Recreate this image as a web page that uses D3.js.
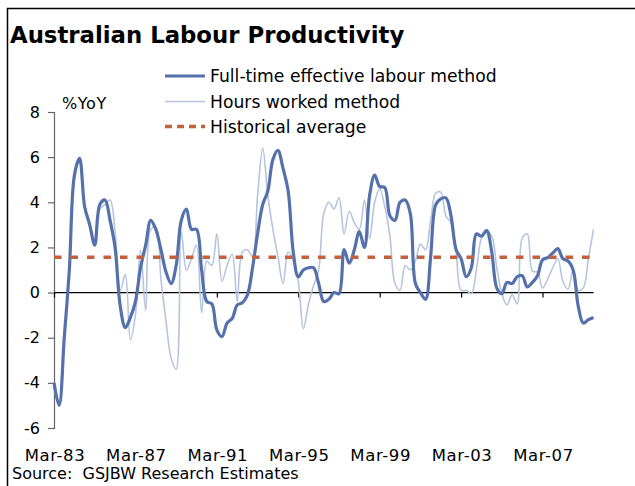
<!DOCTYPE html>
<html>
<head>
<meta charset="utf-8">
<script src="https://cdn.jsdelivr.net/npm/d3@7"></script>
<style>
  html, body { margin: 0; padding: 0; background: #fff; }
  svg { display: block; }
  text { font-family: "DejaVu Sans", Verdana, sans-serif; fill: #000; }
</style>
</head>
<body>
<svg id="chart" width="635" height="486"></svg>
<script>
// ---- Data (quarterly, Mar-83 to Sep-09, % YoY) ----
const firstQuarter = { year: 1983, month: 2 }; // March 1983

const fullTimeEffective = [
  -4.0, -5.0, -2.0, 1.0, 5.2, 5.95, 3.8, 3.0, 2.1, 3.9,
  4.1, 3.2, 2.0, -0.6, -1.55, -1.1, -0.4, 1.1, 2.1, 3.2,
  2.8, 1.9, 0.9, 0.4, 1.2, 3.2, 3.7, 2.8, 2.8, 1.0,
  -0.4, -0.5, -1.65, -1.95, -1.35, -1.15, -0.55, -0.45, -0.1, 1.1,
  2.6, 3.9, 4.5, 5.9, 6.3, 5.5, 4.5, 1.8, 0.7, 1.0,
  1.1, 1.1, 0.4, -0.4, -0.3, 0.0, -0.05, 1.9, 1.3, 1.9,
  2.7, 2.0, 4.3, 5.2, 4.7, 4.65, 3.4, 3.2, 4.0, 4.1,
  3.5, 0.4, 0.0, -0.3, 1.6, 3.9, 4.15, 4.2, 3.4, 1.9,
  1.5, 0.7, 1.1, 2.6, 2.5, 2.75, 1.8, 0.2, -0.05, 0.45,
  0.4, 0.7, 0.75, 0.25, 0.45, 0.75, 1.45, 1.55, 1.75, 1.95,
  1.5, 1.4, 1.0, -0.6, -1.35, -1.2, -1.1
];

const hoursWorked = [
  -4.2, -5.0, -2.2, 1.0, 5.0, 5.8, 3.9, 3.1, 2.2, 3.7,
  3.9, 4.1, 2.7, 0.1, 0.8, -2.1, -1.0, 1.9, -0.8, 2.8,
  2.9, 0.6, -1.3, -2.9, -3.4, 2.7, 1.0, 1.5, 2.1, -0.9,
  1.4, 1.2, 2.6, 0.5, 1.2, 1.7, -0.4, 1.8, 1.9, 1.6,
  4.3, 6.4, 4.3, 2.8, 1.6, 0.4, 1.8, 1.4, 0.5, -1.6,
  -0.5, 0.3, 1.0, 3.5, 4.0, 3.7, 4.2, 2.6, 3.6, 3.1,
  2.8, 4.1, 2.4, 4.0, 4.6, 3.8, 2.5, 0.4, 0.1, 1.2,
  1.0, 1.4, 2.15, 1.9, 3.2, 4.4, 4.45, 3.4, 3.1, 1.8,
  0.1, 0.1, -0.05, 1.0, 2.4, 2.7, 2.5, 1.1, -0.05, -0.55,
  -0.1, -0.5, 2.4, 2.6, 0.95, 0.9, 0.2, 0.6, 1.1, 1.5,
  0.5, 0.15, 1.0, 0.1, 0.2, 1.5, 2.8
];

const historicalAverage = 1.57;

const xTickLabels = ["Mar-83", "Mar-87", "Mar-91", "Mar-95", "Mar-99", "Mar-03", "Mar-07"];
const yTicks = [-6, -4, -2, 0, 2, 4, 6, 8];

const seriesNames = ["Full-time effective labour method", "Hours worked method", "Historical average"];

// ---- Layout ----
const svg = d3.select("#chart");
const colDark = "#5571AC";
const colLight = "#B7C4DE";
const colAvg = "#C3603E";

const quarterDate = i => new Date(firstQuarter.year, firstQuarter.month + 3 * i, 1);
const dates = fullTimeEffective.map((_, i) => quarterDate(i));

const x = d3.scaleTime()
  .domain([dates[0], dates[dates.length - 1]])
  .range([54, 593.5]);
const y = d3.scaleLinear().domain([-6, 8]).range([428, 112]);

// frame
svg.append("rect")
  .attr("x", 7.5).attr("y", 8.5).attr("width", 700).attr("height", 600)
  .attr("fill", "none").attr("stroke", "#000").attr("stroke-width", 1.5);

// title
svg.append("text")
  .attr("x", 10).attr("y", 43)
  .attr("font-size", 22.8).attr("font-weight", "bold")
  .text("Australian Labour Productivity");

// y axis
const yAxis = d3.axisLeft(y).tickValues(yTicks).tickSize(6).tickPadding(8).tickFormat(d3.format("d"));
const gy = svg.append("g").attr("transform", "translate(54,0)").call(yAxis);
gy.select(".domain").attr("stroke", "#666").attr("stroke-width", 1.2);
gy.selectAll(".tick line").attr("stroke", "#666").attr("stroke-width", 1.2);
gy.selectAll(".tick text")
  .attr("font-family", "DejaVu Sans, sans-serif").attr("font-size", 16).attr("fill", "#000")
  .text(d => d < 0 ? "-" + Math.abs(d) : d);

svg.append("text").attr("x", 62).attr("y", 109).attr("font-size", 16).attr("letter-spacing", 0.6).text("%YoY");

// x axis at zero with ticks going down
const tickDates = xTickLabels.map((_, k) => quarterDate(16 * k));
const xAxis = d3.axisBottom(x).tickValues(tickDates).tickSize(5).tickFormat("");
const gx = svg.append("g").attr("transform", `translate(0,${y(0)})`).call(xAxis);
gx.select(".domain").attr("stroke", "#000").attr("stroke-width", 1.3)
  .attr("d", `M${x.range()[0]},0H${x.range()[1]}`);
gx.selectAll(".tick line").attr("stroke", "#000").attr("stroke-width", 1.2);

// x labels at bottom
svg.append("g").selectAll("text").data(xTickLabels).join("text")
  .attr("x", (d, k) => x(tickDates[k]) + 1)
  .attr("y", 461)
  .attr("text-anchor", "middle")
  .attr("font-size", 16.5)
  .attr("letter-spacing", 0.6)
  .text(d => d);

// lines
const line = d3.line().x((d, i) => x(dates[i])).y(d => y(d)).curve(d3.curveCatmullRom.alpha(0.5));

svg.append("path").datum(hoursWorked)
  .attr("d", line).attr("fill", "none").attr("stroke", colLight).attr("stroke-width", 1.6);

svg.append("path").datum(fullTimeEffective)
  .attr("d", line).attr("fill", "none").attr("stroke", colDark).attr("stroke-width", 3.2)
  .attr("stroke-linejoin", "round");

svg.append("line")
  .attr("x1", x.range()[0]).attr("x2", x.range()[1])
  .attr("y1", y(historicalAverage)).attr("y2", y(historicalAverage))
  .attr("stroke", colAvg).attr("stroke-width", 3.5).attr("stroke-dasharray", "7.5,9");

// legend
const legendY = [76, 101.5, 126.5];
const leg = svg.append("g");
leg.append("line").attr("x1", 165).attr("x2", 205).attr("y1", legendY[0]).attr("y2", legendY[0])
  .attr("stroke", colDark).attr("stroke-width", 3.2);
leg.append("line").attr("x1", 165).attr("x2", 205).attr("y1", legendY[1]).attr("y2", legendY[1])
  .attr("stroke", colLight).attr("stroke-width", 1.6);
leg.append("line").attr("x1", 165).attr("x2", 205).attr("y1", legendY[2]).attr("y2", legendY[2])
  .attr("stroke", colAvg).attr("stroke-width", 3.5).attr("stroke-dasharray", "7,5");
leg.selectAll("text").data(seriesNames).join("text")
  .attr("x", 210).attr("y", (d, k) => legendY[k] + 6)
  .attr("font-size", 17.2)
  .text(d => d);

// source
svg.append("text").attr("x", 12).attr("y", 479).attr("font-size", 16)
  .attr("xml:space", "preserve")
  .text("Source:  GSJBW Research Estimates");
</script>
</body>
</html>
